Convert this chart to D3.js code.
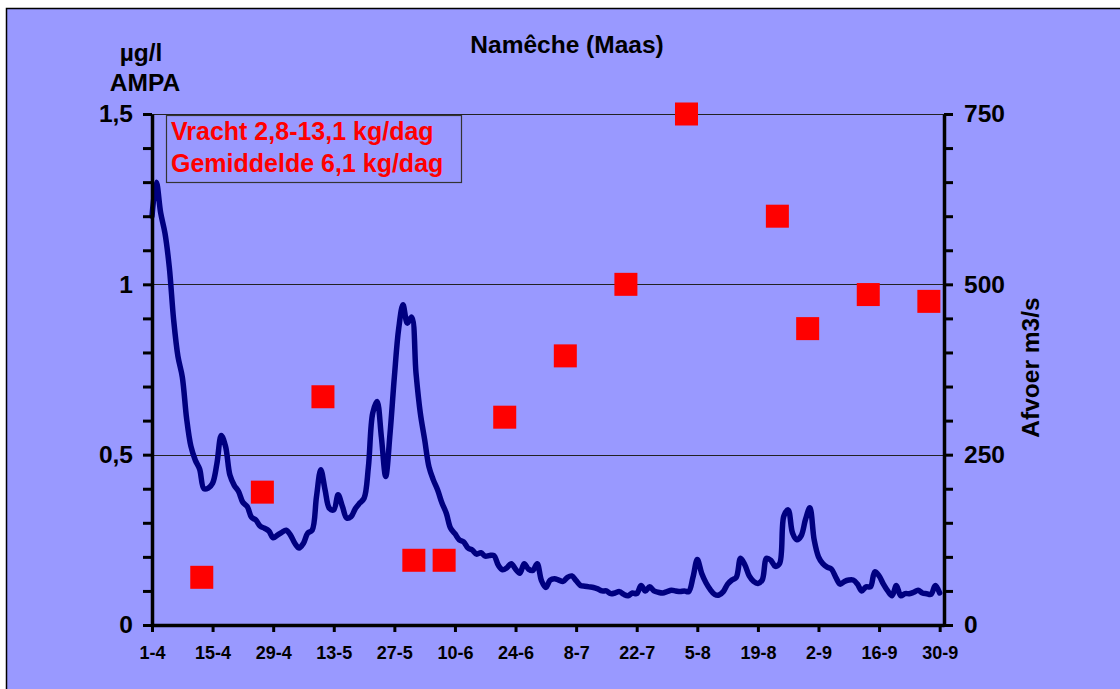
<!DOCTYPE html>
<html lang="nl">
<head>
<meta charset="utf-8">
<title>Namêche (Maas)</title>
<script src="https://d3js.org/d3.v7.min.js"></script>
<style>
    body { margin: 0; background: #fff; }
    svg text { font-family: Arial, "Liberation Sans", sans-serif; font-weight: bold; }
</style>
</head>
<body>
<svg width="1120" height="689"></svg>
<script>
    // afvoer (m3/s), one value per day from 1-4 to 30-9
    var flow = [
        600, 650, 605, 575, 525, 448, 394, 364, 303, 262,
        242, 229, 200, 201, 208, 237, 278, 262, 220, 205,
        196, 180, 174, 158, 154, 145, 142, 138, 128, 132,
        136, 139, 132, 120, 113, 120, 135, 139, 188, 228,
        198, 171, 169, 191, 174, 157, 159, 171, 179, 186,
        232, 311, 328, 276, 218, 281, 364, 435, 470, 443,
        452, 370, 311, 272, 232, 213, 198, 179, 164, 142,
        134, 125, 122, 113, 110, 104, 106, 101, 102, 102,
        88, 81, 84, 90, 82, 76, 90, 82, 80, 90,
        65, 55, 66, 68, 66, 64, 70, 72, 65, 58,
        57, 56, 55, 53, 50, 50, 46, 47, 49, 45,
        43, 47, 46, 58, 50, 56, 50, 48, 47, 49,
        51, 50, 49, 50, 49, 70, 96, 76, 62, 52,
        45, 44, 49, 60, 66, 70, 98, 88, 72, 64,
        61, 66, 98, 95, 86, 90, 160, 169, 135, 125,
        131, 155, 172, 125, 100, 90, 85, 82, 70, 60,
        64, 66, 66, 60, 50, 56, 56, 78, 72, 60,
        50, 43, 58, 43, 46, 46, 48, 51, 47, 46,
        45, 58, 47
    ];
    var sampleDates = ["12-4", "26-4", "10-5", "31-5", "7-6", "21-6", "5-7", "19-7", "2-8", "23-8", "30-8", "13-9", "27-9"];
    var ampa = [0.14, 0.39, 0.67, 0.19, 0.19, 0.61, 0.79, 1.0, 1.5, 1.2, 0.87, 0.97, 0.95];

    var leftLabels = [0, 0.5, 1, 1.5];
    var rightLabels = [0, 250, 500, 750];
    var legendLines = ["Vracht 2,8-13,1 kg/dag", "Gemiddelde 6,1 kg/dag"];

    function parseDay(s) {
        var p = s.split("-");
        return new Date(Date.UTC(2001, +p[1] - 1, +p[0]));
    }
    var start = parseDay("1-4");
    var end = parseDay("1-10");

    var marge = {top: 114, bottom: 64, left: 152, right: 176};
    var svg = d3.select("svg");
    var width = +svg.attr("width");
    var height = +svg.attr("height");
    var w = width - marge.left - marge.right;
    var h = height - marge.top - marge.bottom;

    // achtergrond
    svg.append("rect")
        .attr("x", 6.5).attr("y", 8.5)
        .attr("width", width + 20).attr("height", height + 20)
        .attr("fill", "#9999FF")
        .attr("stroke", "#000").attr("stroke-width", 1.5);

    var g = svg.append("g")
        .attr("transform", "translate(" + marge.left + "," + marge.top + ")");

    var x = d3.scaleUtc().domain([start, end]).range([0, w]);
    var yL = d3.scaleLinear().domain([0, 1.5]).range([h, 0]);
    var yR = d3.scaleLinear().domain([0, 750]).range([h, 0]);

    // rasterlijnen
    g.selectAll(".grid")
        .data(leftLabels.filter(function(d){ return d > 0; }))
        .enter().append("line")
        .attr("x1", 0).attr("x2", w)
        .attr("y1", function(d){ return Math.round(yL(d)) + 0.5; })
        .attr("y2", function(d){ return Math.round(yL(d)) + 0.5; })
        .attr("stroke", "#222").attr("stroke-width", 1.2);

    // afvoer lijn (gladde lijn zoals in het origineel)
    var flowData = flow.map(function(v, i){ return {date: d3.utcDay.offset(start, i), v: v}; });
    var line = d3.line()
        .curve(d3.curveCatmullRom.alpha(0.5))
        .x(function(d){ return x(d.date); })
        .y(function(d){ return yR(d.v); });
    g.append("path")
        .datum(flowData)
        .attr("d", line)
        .attr("fill", "none")
        .attr("stroke", "#000080")
        .attr("stroke-width", 5.5)
        .attr("stroke-linejoin", "round")
        .attr("stroke-linecap", "round");

    // AMPA metingen
    var sq = 23;
    g.selectAll(".sq")
        .data(sampleDates)
        .enter().append("rect")
        .attr("x", function(d){ return x(d3.utcHour.offset(parseDay(d), 12)) - sq / 2; })
        .attr("y", function(d, i){ return yL(ampa[i]) - sq / 2; })
        .attr("width", sq).attr("height", sq)
        .attr("fill", "#FF0000");

    // assen
    var xTicks = d3.range(0, 183, 14).map(function(i){ return d3.utcDay.offset(start, i); });
    var xAxis = d3.axisBottom(x)
        .tickValues(xTicks)
        .tickFormat(d3.utcFormat("%-d-%-m"))
        .tickSize(7).tickSizeOuter(0);
    var gx = g.append("g")
        .attr("transform", "translate(0," + h + ")")
        .call(xAxis);
    gx.selectAll("text").attr("y", 34).attr("dy", 0).style("font-size", "18px");

    var yAxisL = d3.axisLeft(yL)
        .tickValues(d3.range(16).map(function(i){ return i / 10; }))
        .tickFormat(function(d){
            return leftLabels.indexOf(Math.round(d * 10) / 10) >= 0 ? String(d).replace(".", ",") : "";
        })
        .tickSize(9).tickSizeOuter(0).tickPadding(10);
    var gl = g.append("g").call(yAxisL);
    gl.selectAll("text").style("font-size", "24.5px");

    var yAxisR = d3.axisRight(yR)
        .tickValues(d3.range(0, 751, 50))
        .tickFormat(function(d){ return rightLabels.indexOf(d) >= 0 ? d : ""; })
        .tickSize(9).tickSizeOuter(0).tickPadding(11);
    var gr = g.append("g")
        .attr("transform", "translate(" + w + ",0)")
        .call(yAxisR);
    gr.selectAll("text").style("font-size", "24.5px");

    svg.selectAll(".domain").attr("stroke", "#000").attr("stroke-width", 3.5);
    svg.selectAll(".tick line").attr("stroke", "#000").attr("stroke-width", 3);
    svg.selectAll(".tick text").attr("fill", "#000").style("font-family", "Arial, 'Liberation Sans', sans-serif");

    // titels
    svg.append("text")
        .attr("x", 567).attr("y", 53)
        .attr("text-anchor", "middle")
        .style("font-size", "24.5px")
        .text("Namêche (Maas)");
    svg.append("text")
        .attr("x", 141).attr("y", 61)
        .attr("text-anchor", "middle")
        .style("font-size", "24.5px")
        .text("µg/l");
    svg.append("text")
        .attr("x", 145).attr("y", 91)
        .attr("text-anchor", "middle")
        .style("font-size", "24.5px")
        .text("AMPA");
    svg.append("text")
        .attr("transform", "translate(1039," + (marge.top + h / 2 - 2) + ") rotate(-90)")
        .attr("text-anchor", "middle")
        .style("font-size", "24.5px")
        .text("Afvoer m3/s");

    // legenda
    svg.append("rect")
        .attr("x", 166.5).attr("y", 115.5)
        .attr("width", 295).attr("height", 67)
        .attr("fill", "none")
        .attr("stroke", "#333").attr("stroke-width", 1.2);
    svg.selectAll(".leg")
        .data(legendLines)
        .enter().append("text")
        .attr("x", 171)
        .attr("y", function(d, i){ return 140 + i * 32; })
        .attr("fill", "#FF0000")
        .style("font-size", "25px")
        .text(function(d){ return d; });
</script>
</body>
</html>
